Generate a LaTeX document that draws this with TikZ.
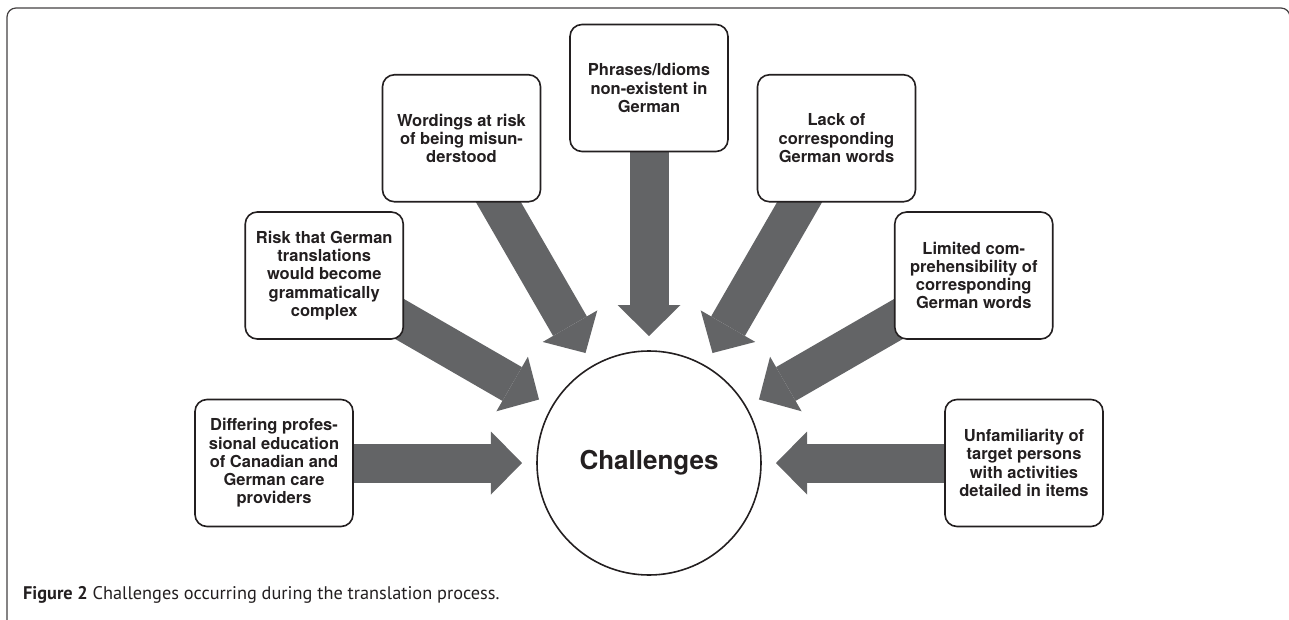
\documentclass[tikz,border=0pt]{standalone}
\usepackage{fontspec}
\setmainfont{TeX Gyre Heros}
\newfontfamily\capfont{PT Sans}
\usepackage{xcolor}
\usetikzlibrary{arrows.meta,backgrounds}
\definecolor{arrowgray}{RGB}{99,100,102}
\definecolor{inkdark}{RGB}{35,31,32}

\begin{document}
\begin{tikzpicture}[x=1pt,y=1pt,
	box/.style={draw=inkdark,line width=1.6pt,rounded corners=12pt,fill=white,
		minimum width=158pt,minimum height=127pt,align=center,text=inkdark,
		font=\fontsize{16.5}{18.3}\selectfont\bfseries},
	fat/.style={arrowgray,line width=39pt,shorten >=127pt,
		-{Triangle[width=63pt,length=31pt,line width=0pt]}}]
	\useasboundingbox (-649,-156) rectangle (640,463);
	% frame
	\draw[line width=1.2pt,inkdark!85,rounded corners=9pt]
		(-634,-166) -- (-642,-166) -- (-642,455) -- (641,455) -- (641,420);
	%
	\node[circle,draw=inkdark,line width=1.6pt,minimum size=224pt,text=inkdark,
		font=\fontsize{26}{30}\selectfont\bfseries] (ch) at (0,0) {Challenges};
	\node[box] (dif) at (180:375) {Differing profes-\\sional education\\of Canadian and\\German care\\providers};
	\node[box] (rsk) at (150:375) {Risk that German\\translations\\would become\\grammatically\\complex};
	\node[box] (wrd) at (120:375) {Wordings at risk\\of being misun-\\derstood};
	\node[box] (phr) at (90:375) {Phrases/Idioms\\non-existent in\\German};
	\node[box] (lck) at (60:375) {Lack of\\corresponding\\German words};
	\node[box] (lim) at (30:375) {Limited com-\\prehensibility of\\corresponding\\German words};
	\node[box] (unf) at (0:375) {Unfamiliarity of\\target persons\\with activities\\detailed in items};
	%
	\begin{scope}[on background layer]
		\path[fat]
			(dif.center) edge (ch.center)
			(rsk.center) edge (ch.center)
			(wrd.center) edge (ch.center)
			(phr.center) edge (ch.center)
			(lck.center) edge (ch.center)
			(lim.center) edge (ch.center)
			(unf.center) edge (ch.center);
	\end{scope}
	%
	\node[anchor=base west,inner sep=0pt,text=inkdark,font=\capfont\fontsize{18.3}{21}\selectfont]
		(cap) at (-626,-136) {\textbf{Figure 2} Challenges occurring during the translation process.};
\end{tikzpicture}
\end{document}
